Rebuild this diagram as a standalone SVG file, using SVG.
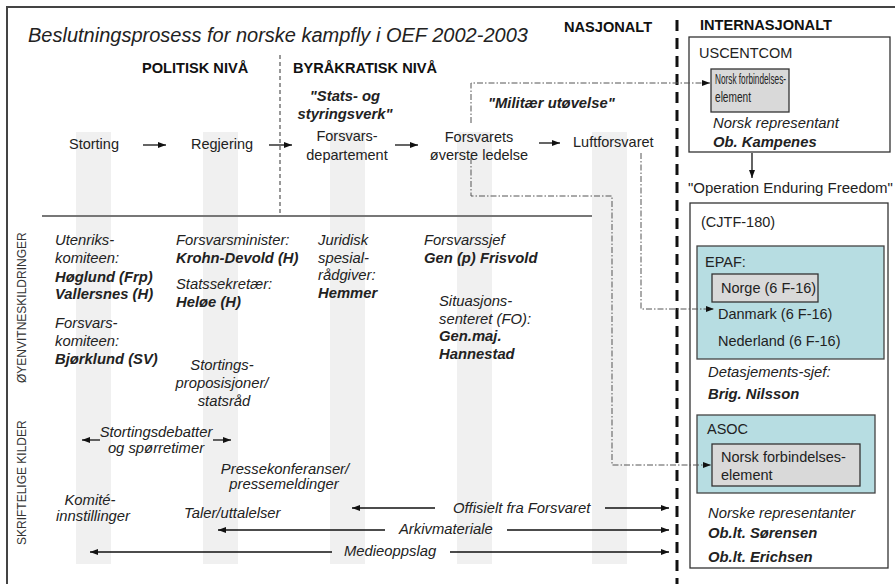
<svg xmlns="http://www.w3.org/2000/svg" width="895" height="584" viewBox="0 0 895 584">
<style>
text{font-family:"Liberation Sans",Arial,sans-serif;font-size:14.5px;fill:#222}
.i{font-style:italic;font-size:14.8px}
.b{font-weight:bold}
.bi{font-weight:bold;font-style:italic;font-size:14.8px}
.h{font-weight:bold;font-size:14.6px;fill:#111}
.side{font-size:12px;fill:#333}
.stripe{fill:#f0f0f0}
.arr{stroke:#111;stroke-width:1.3;fill:none;marker-end:url(#ah)}
.dd{stroke:#555;stroke-width:1;fill:none;stroke-dasharray:6 2 1.5 2}
.box{fill:#fff;stroke:#333;stroke-width:1.3}
.grey{fill:#d9d9d9;stroke:#333;stroke-width:1.3}
.teal{fill:#b7dde2;stroke:#444;stroke-width:1.3}
</style>
<defs>
<marker id="ah" markerWidth="8" markerHeight="6" refX="8" refY="3" orient="auto" markerUnits="userSpaceOnUse"><path d="M0,0 L8,3 L0,6 z" fill="#111"/></marker>
</defs>
<rect width="895" height="584" fill="#fff"/>
<g id="stripes">
<rect class="stripe" x="76" y="132" width="35" height="432"/>
<rect class="stripe" x="203" y="132" width="35" height="432"/>
<rect class="stripe" x="330" y="132" width="35" height="432"/>
<rect class="stripe" x="457" y="132" width="35" height="432"/>
<rect class="stripe" x="592" y="132" width="35" height="432"/>
</g>
<g id="frame">
<path d="M7,584 V7 H895" fill="none" stroke="#444" stroke-width="2"/>
<line x1="280" y1="55" x2="280" y2="214" stroke="#777" stroke-width="1.5" stroke-dasharray="4 3"/>
<line x1="42" y1="216" x2="592" y2="216" stroke="#777" stroke-width="2"/>
<line x1="677" y1="20" x2="677" y2="584" stroke="#111" stroke-width="3" stroke-dasharray="11 7"/>
</g>
<g id="headers">
<text x="28" y="42" class="i" style="font-size:20px">Beslutningsprosess for norske kampfly i OEF 2002-2003</text>
<text x="564" y="32" class="h">NASJONALT</text>
<text x="700" y="30" class="h">INTERNASJONALT</text>
<text x="142" y="73" class="h">POLITISK NIVÅ</text>
<text x="293" y="73" class="h">BYRÅKRATISK NIVÅ</text>
<text x="345" y="101" class="bi" text-anchor="middle">"Stats- og</text>
<text x="345" y="119" class="bi" text-anchor="middle">styringsverk"</text>
<text x="488" y="108" class="bi">"Militær utøvelse"</text>
<text transform="translate(26,383) rotate(-90)" class="side">ØYENVITNESKILDRINGER</text>
<text transform="translate(26,545) rotate(-90)" class="side">SKRIFTELIGE KILDER</text>
</g>
<g id="n-storting"><text x="69" y="149">Storting</text></g>
<g id="n-regjering"><text x="191" y="149">Regjering</text></g>
<g id="n-fd"><text x="347" y="141" text-anchor="middle">Forsvars-</text><text x="347" y="160" text-anchor="middle">departement</text></g>
<g id="n-fol"><text x="479" y="142" text-anchor="middle">Forsvarets</text><text x="479" y="160" text-anchor="middle">øverste ledelse</text></g>
<g id="n-lf"><text x="573" y="147">Luftforsvaret</text></g>
<g id="w-utenriks">
<text x="55" y="245" class="i">Utenriks-</text>
<text x="55" y="263" class="i">komiteen:</text>
<text x="55" y="282" class="bi">Høglund (Frp)</text>
<text x="55" y="299" class="bi">Vallersnes (H)</text>
<text x="55" y="328" class="i">Forsvars-</text>
<text x="55" y="346" class="i">komiteen:</text>
<text x="55" y="364" class="bi">Bjørklund (SV)</text>
</g>
<g id="w-regjering">
<text x="176" y="245" class="i">Forsvarsminister:</text>
<text x="176" y="263" class="bi">Krohn-Devold (H)</text>
<text x="176" y="289" class="i">Statssekretær:</text>
<text x="176" y="307" class="bi">Heløe (H)</text>
<text x="222" y="370" class="i" text-anchor="middle">Stortings-</text>
<text x="222" y="388" class="i" text-anchor="middle">proposisjoner/</text>
<text x="224" y="406" class="i" text-anchor="middle">statsråd</text>
</g>
<g id="w-fd">
<text x="318" y="245" class="i">Juridisk</text>
<text x="318" y="263" class="i">spesial-</text>
<text x="318" y="280" class="i">rådgiver:</text>
<text x="318" y="298" class="bi">Hemmer</text>
</g>
<g id="w-fol">
<text x="424" y="245" class="i">Forsvarssjef</text>
<text x="424" y="263" class="bi">Gen (p) Frisvold</text>
<text x="439" y="306" class="i">Situasjons-</text>
<text x="439" y="324" class="i">senteret (FO):</text>
<text x="439" y="341" class="bi">Gen.maj.</text>
<text x="439" y="359" class="bi">Hannestad</text>
</g>
<g id="s-written">
<text x="156" y="437" class="i" text-anchor="middle">Stortingsdebatter</text>
<text x="156" y="453" class="i" text-anchor="middle">og spørretimer</text>
<text x="285" y="474" class="i" text-anchor="middle">Pressekonferanser/</text>
<text x="284" y="489" class="i" text-anchor="middle">pressemeldinger</text>
<text x="90" y="505" class="i" text-anchor="middle">Komité-</text>
<text x="93" y="521" class="i" text-anchor="middle">innstillinger</text>
<text x="184" y="518" class="i">Taler/uttalelser</text>
<text x="453" y="513" class="i">Offisielt fra Forsvaret</text>
<text x="399" y="534" class="i">Arkivmateriale</text>
<text x="344" y="556" class="i">Medieoppslag</text>
</g>
<g id="n-uscentcom">
<rect class="box" x="689" y="37" width="201" height="115"/>
<text x="699" y="58">USCENTCOM</text>
<rect class="grey" x="711" y="69" width="78" height="43"/>
<text x="715" y="84" textLength="71" lengthAdjust="spacingAndGlyphs">Norsk forbindelses-</text>
<text x="715" y="102" textLength="36" lengthAdjust="spacingAndGlyphs">element</text>
<text x="713" y="128" class="i">Norsk representant</text>
<text x="713" y="147" class="bi">Ob. Kampenes</text>
</g>
<g id="n-oef">
<text x="688" y="193" style="font-size:15px">"Operation Enduring Freedom"</text>
<rect class="box" x="690" y="203" width="198" height="365"/>
<text x="701" y="227">(CJTF-180)</text>
</g>
<g id="n-epaf">
<rect class="teal" x="697" y="246" width="187" height="113"/>
<text x="705" y="267">EPAF:</text>
<rect class="grey" x="712" y="274" width="106" height="28"/>
<text x="721" y="293">Norge (6 F-16)</text>
<text x="718" y="319">Danmark (6 F-16)</text>
<text x="718" y="346">Nederland (6 F-16)</text>
</g>
<g id="n-det">
<text x="708" y="377" class="i">Detasjements-sjef:</text>
<text x="708" y="399" class="bi">Brig. Nilsson</text>
</g>
<g id="n-asoc">
<rect class="teal" x="697" y="415" width="178" height="78"/>
<text x="707" y="434">ASOC</text>
<rect class="grey" x="712" y="444" width="148" height="42"/>
<text x="721" y="462">Norsk forbindelses-</text>
<text x="721" y="480">element</text>
</g>
<g id="n-rep">
<text x="708" y="518" class="i">Norske representanter</text>
<text x="708" y="538" class="bi">Ob.lt. Sørensen</text>
<text x="708" y="562" class="bi">Ob.lt. Erichsen</text>
</g>
<g id="connectors">
<line class="arr" x1="143" y1="145" x2="166" y2="145"/>
<line class="arr" x1="269" y1="145" x2="292" y2="145"/>
<line class="arr" x1="395" y1="145" x2="418" y2="145"/>
<line class="arr" x1="539" y1="143" x2="560" y2="143"/>
<line class="arr" x1="752" y1="153" x2="752" y2="178"/>
<line class="arr" x1="100" y1="440" x2="82" y2="440"/>
<line class="arr" x1="213" y1="440" x2="231" y2="440"/>
<line class="arr" x1="435" y1="508" x2="352" y2="508"/>
<line class="arr" x1="605" y1="508" x2="669" y2="508"/>
<line class="arr" x1="385" y1="530" x2="218" y2="530"/>
<line class="arr" x1="507" y1="530" x2="669" y2="530"/>
<line class="arr" x1="332" y1="552" x2="90" y2="552"/>
<line class="arr" x1="450" y1="552" x2="669" y2="552"/>
<path class="dd" d="M471,123 V83 H710" marker-end="url(#ah)"/>
<path class="dd" d="M471,158 V196 H612 V465 H711" marker-end="url(#ah)"/>
<path class="dd" d="M641,153 V309 H714" marker-end="url(#ah)"/>
</g>
</svg>
